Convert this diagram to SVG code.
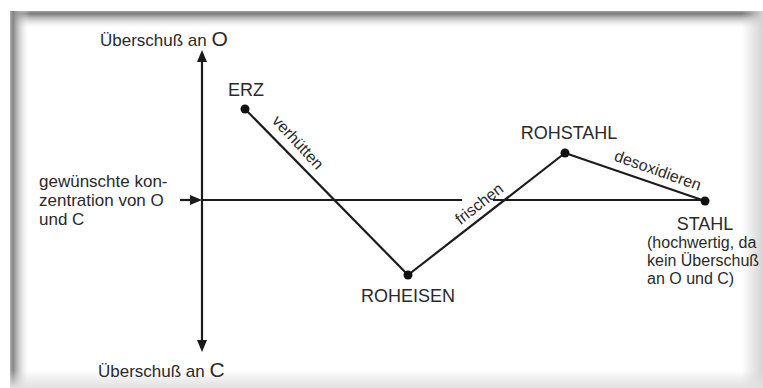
<svg xmlns="http://www.w3.org/2000/svg" width="763" height="388" viewBox="0 0 763 388">
  <defs>
    <linearGradient id="gTop" x1="0" y1="0" x2="0" y2="1">
      <stop offset="0" stop-color="#a0a0a0" stop-opacity="1"/>
      <stop offset="0.15" stop-color="#7c7c7c" stop-opacity="1"/>
      <stop offset="1" stop-color="#ffffff" stop-opacity="0"/>
    </linearGradient>
    <linearGradient id="gLeft" x1="0" y1="0" x2="1" y2="0">
      <stop offset="0" stop-color="#b0b0b0" stop-opacity="1"/>
      <stop offset="0.15" stop-color="#858585" stop-opacity="1"/>
      <stop offset="1" stop-color="#ffffff" stop-opacity="0"/>
    </linearGradient>
    <linearGradient id="gRight" x1="0" y1="0" x2="1" y2="0">
      <stop offset="0" stop-color="#d0d0d0" stop-opacity="0"/>
      <stop offset="1" stop-color="#d4d4d4" stop-opacity="1"/>
    </linearGradient>
    <linearGradient id="gBottom" x1="0" y1="0" x2="0" y2="1">
      <stop offset="0" stop-color="#dcdcdc" stop-opacity="0"/>
      <stop offset="1" stop-color="#e2e2e2" stop-opacity="1"/>
    </linearGradient>
    <marker id="arr" markerUnits="userSpaceOnUse" markerWidth="14" markerHeight="12" refX="0" refY="5" orient="auto-start-reverse" viewBox="0 0 14 10">
      <path d="M0,0 L12,5 L0,10 z" fill="#1a1a1a"/>
    </marker>
    <style>
      .t { font-family: "Liberation Sans", Arial, sans-serif; fill: #2a2a2a; }
      .lbl { font-size: 17px; }
      .cap { font-size: 18px; }
      .edge { font-size: 16px; }
      .note { font-size: 16px; }
      .ln { stroke: #1c1c1c; stroke-width: 2.2; fill: none; }
      .dot { fill: #111; }
    </style>
  </defs>

  <rect x="0" y="0" width="763" height="388" fill="#ffffff"/>
  <g id="frame">
    <rect x="10" y="11" width="753" height="377" fill="#ffffff"/>
    <rect x="10" y="11" width="753" height="18" fill="url(#gTop)"/>
    <rect x="10" y="11" width="20" height="377" fill="url(#gLeft)"/>
    <rect x="742" y="11" width="21" height="377" fill="url(#gRight)"/>
    <rect x="10" y="370" width="753" height="18" fill="url(#gBottom)"/>
  </g>

  <g id="axes">
    <line class="ln" x1="202" y1="62" x2="202" y2="340" marker-start="url(#arr)" marker-end="url(#arr)"/>
    <line class="ln" x1="180" y1="200" x2="190" y2="200" marker-end="url(#arr)"/>
    <text class="t lbl" x="100" y="46">Überschuß an <tspan font-size="21">O</tspan></text>
    <text class="t lbl" x="98" y="377">Überschuß an <tspan font-size="21">C</tspan></text>
  </g>

  <g id="target-label">
    <text class="t lbl" x="39" y="187">gewünschte kon-</text>
    <text class="t lbl" x="39" y="206">zentration von O</text>
    <text class="t lbl" x="39" y="225">und C</text>
  </g>

  <g id="connectors">
    <line class="ln" x1="202" y1="200" x2="462" y2="200"/>
    <line class="ln" x1="493" y1="200" x2="705" y2="200"/>
    <line class="ln" x1="245" y1="109" x2="408" y2="275"/>
    <line class="ln" x1="408" y1="275" x2="565" y2="153"/>
    <line class="ln" x1="565" y1="153" x2="705" y2="201"/>
    <text class="t edge" text-anchor="middle" transform="translate(294,146) rotate(47)">verhütten</text>
    <text class="t edge" text-anchor="middle" transform="translate(482.5,208) rotate(-38)">frischen</text>
    <text class="t edge" text-anchor="middle" transform="translate(656,175.5) rotate(19.5)">desoxidieren</text>
  </g>

  <g id="erz">
    <circle class="dot" cx="245" cy="109" r="4.5"/>
    <text class="t cap" x="246" y="96" text-anchor="middle">ERZ</text>
  </g>
  <g id="roheisen">
    <circle class="dot" cx="408" cy="275" r="4.5"/>
    <text class="t cap" x="408" y="302" text-anchor="middle">ROHEISEN</text>
  </g>
  <g id="rohstahl">
    <circle class="dot" cx="565" cy="153" r="4.5"/>
    <text class="t cap" x="569" y="139" text-anchor="middle">ROHSTAHL</text>
  </g>
  <g id="stahl">
    <circle class="dot" cx="705" cy="201" r="4.5"/>
    <text class="t cap" x="705" y="230" text-anchor="middle">STAHL</text>
    <text class="t note" x="647" y="248">(hochwertig, da</text>
    <text class="t note" x="647" y="266">kein Überschuß</text>
    <text class="t note" x="647" y="284">an O und C)</text>
  </g>
</svg>
